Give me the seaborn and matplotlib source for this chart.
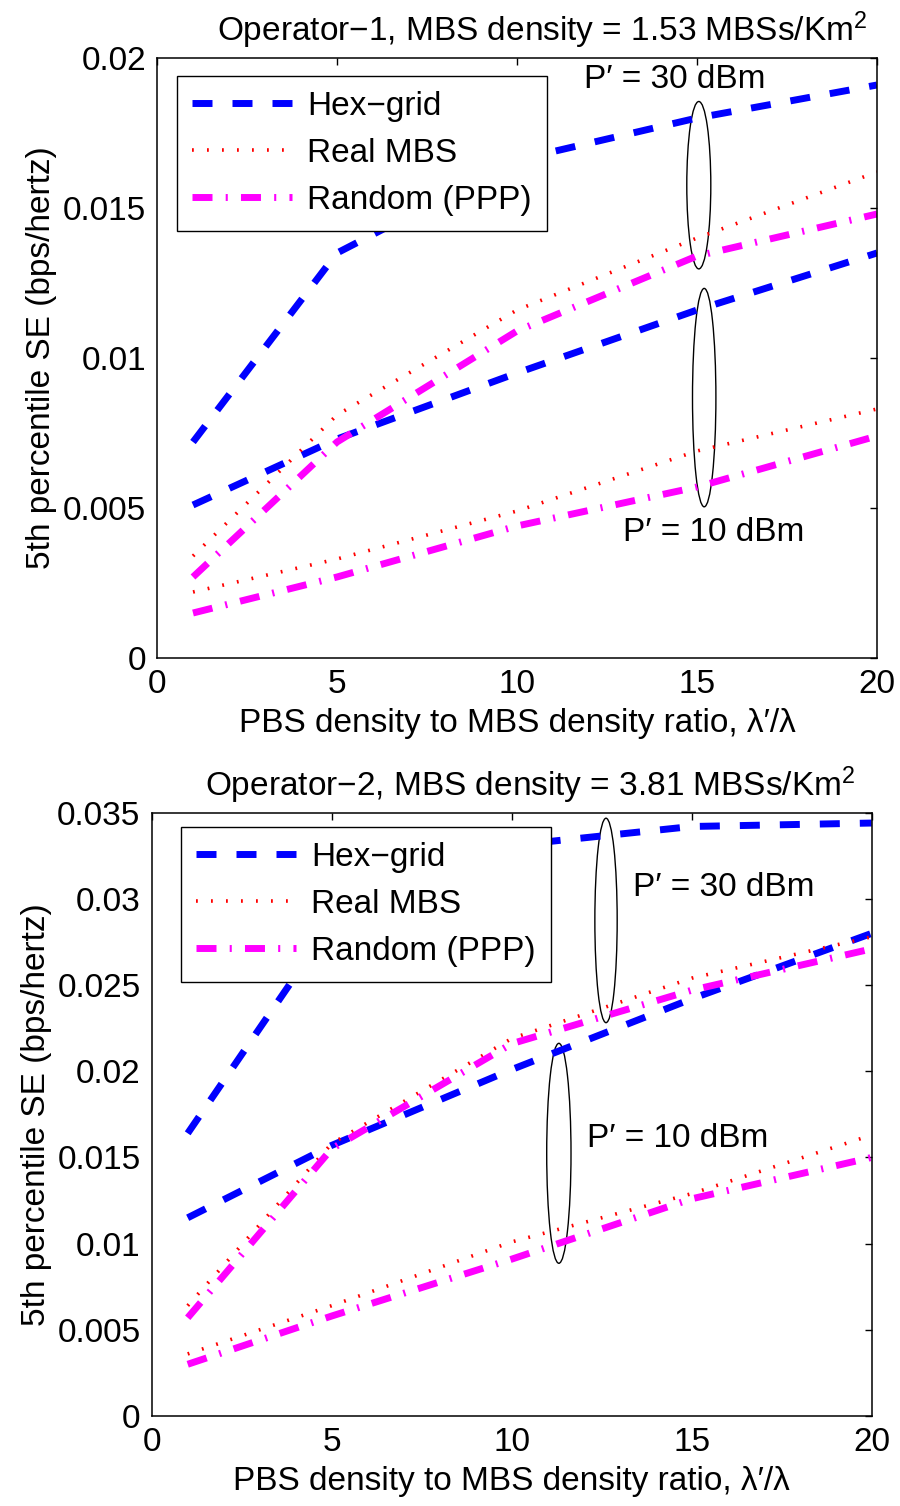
import numpy as np
import pandas as pd
import seaborn as sns
import matplotlib.pyplot as plt
from matplotlib.lines import Line2D
from matplotlib.patches import Ellipse
from matplotlib.ticker import FuncFormatter

# PBS density to MBS density ratio (x axis)
ratio = [1, 5, 10, 15, 20]

# Operator-1 (MBS density 1.53 MBSs/Km^2)
op1_hex_30 = [0.0072, 0.0135, 0.0166, 0.0180, 0.0191]
op1_real_30 = [0.0034, 0.0081, 0.0116, 0.0140, 0.0162]
op1_ppp_30 = [0.0027, 0.0072, 0.0109, 0.0134, 0.0148]
op1_hex_10 = [0.0051, 0.0073, 0.0095, 0.0116, 0.0135]
op1_real_10 = [0.0022, 0.0033, 0.0049, 0.0069, 0.0083]
op1_ppp_10 = [0.0015, 0.0027, 0.0044, 0.0057, 0.0074]

# Operator-2 (MBS density 3.81 MBSs/Km^2)
op2_hex_30 = [0.0164, 0.0286, 0.0331, 0.0342, 0.0344]
op2_real_30 = [0.0064, 0.0158, 0.0219, 0.0254, 0.0278]
op2_ppp_30 = [0.0057, 0.0155, 0.0216, 0.0247, 0.0271]
op2_hex_10 = [0.0115, 0.0157, 0.0201, 0.0242, 0.0280]
op2_real_10 = [0.0036, 0.0064, 0.0101, 0.0129, 0.0163]
op2_ppp_10 = [0.0030, 0.0058, 0.0091, 0.0126, 0.0150]

schemes = ["Hex\u2212grid", "Real MBS", "Random (PPP)"]
titles = ["Operator\u22121, MBS density = 1.53 MBSs/Km$^2$",
          "Operator\u22122, MBS density = 3.81 MBSs/Km$^2$"]
x_label = "PBS density to MBS density ratio, \u03bb\u2032/\u03bb"
y_label = "5th percentile SE (bps/hertz)"

# style of each scheme
colors = {schemes[0]: "#0000ff", schemes[1]: "#ff0000", schemes[2]: "#ff00ff"}
widths = {schemes[0]: 5.0, schemes[1]: 2.6, schemes[2]: 5.0}
dashes = {schemes[0]: (14.4, 14.4), schemes[1]: (1.3, 9.5),
          schemes[2]: (14.4, 9.5, 1.5, 9.5)}

FS = 24


def build_frame(hex30, real30, ppp30, hex10, real10, ppp10):
    rows = []
    for power, series in (("30 dBm", (hex30, real30, ppp30)),
                          ("10 dBm", (hex10, real10, ppp10))):
        for name, vals in zip(schemes, series):
            for r, v in zip(ratio, vals):
                rows.append({"ratio": r, "se": v, "scheme": name, "power": power})
    return pd.DataFrame(rows)


sns.set_theme(style="white")
plt.rcParams["font.family"] = ["Liberation Sans", "DejaVu Sans"]
plt.rcParams["mathtext.fontset"] = "custom"
plt.rcParams["mathtext.rm"] = "Liberation Sans"
plt.rcParams["mathtext.it"] = "Liberation Sans"
plt.rcParams["lines.scale_dashes"] = False
plt.rcParams["axes.linewidth"] = 1.1
for key in ("text.color", "axes.labelcolor", "xtick.color", "ytick.color"):
    plt.rcParams[key] = "black"

fig = plt.figure(figsize=(9, 15.06), dpi=100)
ax1 = fig.add_axes([157 / 900, 1 - 658 / 1506, 720 / 900, 600 / 1506])
ax2 = fig.add_axes([151.7 / 900, 1 - 1416 / 1506, 720 / 900, 603.3 / 1506])

frames = [
    build_frame(op1_hex_30, op1_real_30, op1_ppp_30, op1_hex_10, op1_real_10, op1_ppp_10),
    build_frame(op2_hex_30, op2_real_30, op2_ppp_30, op2_hex_10, op2_real_10, op2_ppp_10),
]
ylims = [0.02, 0.035]
yticks = [np.arange(0, 0.0201, 0.005), np.arange(0, 0.0351, 0.005)]
title_x = [0.535, 0.525]
legend_anchor = [(0.028, 0.97), (0.041, 0.977)]

# ellipses: (x centre, y centre, width, height) in data units
ellipses = [
    [(15.05, 0.01576, 0.667, 0.00558), (15.2, 0.00868, 0.65, 0.00728)],
    [(12.62, 0.02875, 0.62, 0.01186), (11.31, 0.01524, 0.675, 0.01276)],
]
notes = [
    [(14.39, 0.0193, "P\u2032 = 30 dBm"), (15.45, 0.00417, "P\u2032 = 10 dBm")],
    [(15.88, 0.03066, "P\u2032 = 30 dBm"), (14.61, 0.01607, "P\u2032 = 10 dBm")],
]

for i, ax in enumerate([ax1, ax2]):
    sns.lineplot(data=frames[i], x="ratio", y="se", hue="scheme", style="scheme",
                 size="scheme", units="power", estimator=None,
                 palette=colors, dashes=dashes, sizes=widths,
                 legend=False, ax=ax)

    for cx, cy, w, h in ellipses[i]:
        ax.add_patch(Ellipse((cx, cy), w, h, fill=False, edgecolor="black", lw=1.0))
    for tx, ty, txt in notes[i]:
        ax.text(tx, ty, txt, ha="center", va="center", fontsize=FS)

    ax.set_xlim(0, 20)
    ax.set_ylim(0, ylims[i])
    ax.set_xticks([0, 5, 10, 15, 20])
    ax.set_yticks(yticks[i])
    ax.yaxis.set_major_formatter(FuncFormatter(lambda v, p: "{:g}".format(round(v, 4))))
    ax.tick_params(direction="in", length=5, width=1.0, top=True, right=True,
                   labelsize=FS, pad=8)
    for sp in ax.spines.values():
        sp.set_color("black")
    ax.set_xlabel(x_label, fontsize=FS, labelpad=6)
    ax.set_ylabel(y_label, fontsize=FS, labelpad=4)
    ax.set_title(titles[i], fontsize=FS, x=title_x[i], pad=12)

    handles = [Line2D([0], [0], color=colors[s], lw=widths[s],
                      linestyle=(0, dashes[s])) for s in schemes]
    leg = ax.legend(handles, schemes, loc="upper left", bbox_to_anchor=legend_anchor[i],
                    borderaxespad=0, fontsize=FS, handlelength=3.0, handletextpad=0.45,
                    labelspacing=0.48, borderpad=0.45, fancybox=False, framealpha=1)
    leg.get_frame().set_edgecolor("black")
    leg.get_frame().set_linewidth(1.0)

fig.savefig("out.png", dpi=100)
